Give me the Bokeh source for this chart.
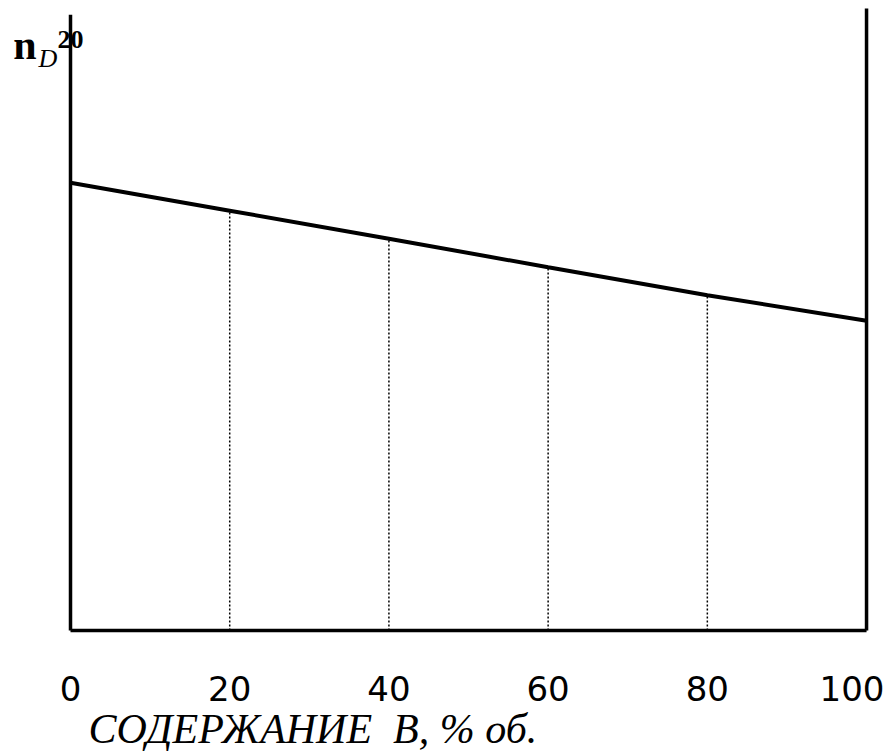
from bokeh.plotting import figure
from bokeh.models import Range1d, Label, FixedTicker, Title
from bokeh.embed import file_html
from bokeh.resources import INLINE

# composition of B, % vol
content_b = [0, 20, 40, 60, 80, 100]
# refractive index n_D^20 (relative units, no scale printed)
n_d20 = [0.720, 0.675, 0.630, 0.584, 0.539, 0.498]
tick_labels = ["0", "20", "40", "60", "80", "100"]
x_title = "СОДЕРЖАНИЕ\u00a0 В, % об."

p = figure(frame_width=874, frame_height=638, width=884, height=750,
           x_range=Range1d(-8.794, 101.0), y_range=Range1d(-0.013, 1.013),
           output_backend="svg", toolbar_location=None,
           min_border_left=0, min_border_right=10, min_border_top=0)
p.outline_line_color = None
p.grid.visible = False
p.background_fill_color = "white"
p.border_fill_color = "white"

p.yaxis.visible = False
xa = p.xaxis[0]
xa.ticker = FixedTicker(ticks=content_b)
xa.major_label_overrides = {v: t for v, t in zip(content_b, tick_labels)}
xa.axis_line_color = None
xa.major_tick_line_color = None
xa.minor_tick_line_color = None
xa.major_label_text_font = "DejaVu Sans"
xa.major_label_text_font_size = "34px"
xa.major_label_text_color = "black"
xa.major_label_standoff = 31

title = Title(text=x_title, align="left", offset=88, text_font="Liberation Serif",
              text_font_style="italic", text_font_size="42px", text_color="black",
              standoff=0)
p.add_layout(title, "below")

# frame lines: left axis, bottom axis, right border
p.segment(x0=[content_b[0]], y0=[0], x1=[content_b[0]], y1=[0.99], line_color="black", line_width=3.5)
p.segment(x0=[content_b[0]], y0=[0], x1=[content_b[-1]], y1=[0], line_color="black", line_width=3.5)
p.segment(x0=[content_b[-1]], y0=[0], x1=[content_b[-1]], y1=[1.0], line_color="black", line_width=3.5)

# dotted drop lines
inner_x = content_b[1:-1]
inner_y = n_d20[1:-1]
p.segment(x0=inner_x, y0=[0] * len(inner_x), x1=inner_x, y1=inner_y,
          line_color="black", line_width=1.5, line_dash="2 2")

# main line
p.line(content_b, n_d20, line_color="black", line_width=4)

# y label n_D^20
p.add_layout(Label(x=-7.2, y=0.941, text="n", text_font="Liberation Serif",
                   text_font_style="bold", text_font_size="42px", text_color="black",
                   text_baseline="alphabetic"))
p.add_layout(Label(x=-4.02, y=0.920, text="D", text_font="Liberation Serif",
                   text_font_style="italic", text_font_size="26px", text_color="black",
                   text_baseline="alphabetic"))
p.add_layout(Label(x=-1.63, y=0.950, text="20", text_font="Liberation Serif",
                   text_font_style="bold", text_font_size="26px", text_color="black",
                   text_baseline="alphabetic"))

open("out.html", "w").write(file_html(p, INLINE))
